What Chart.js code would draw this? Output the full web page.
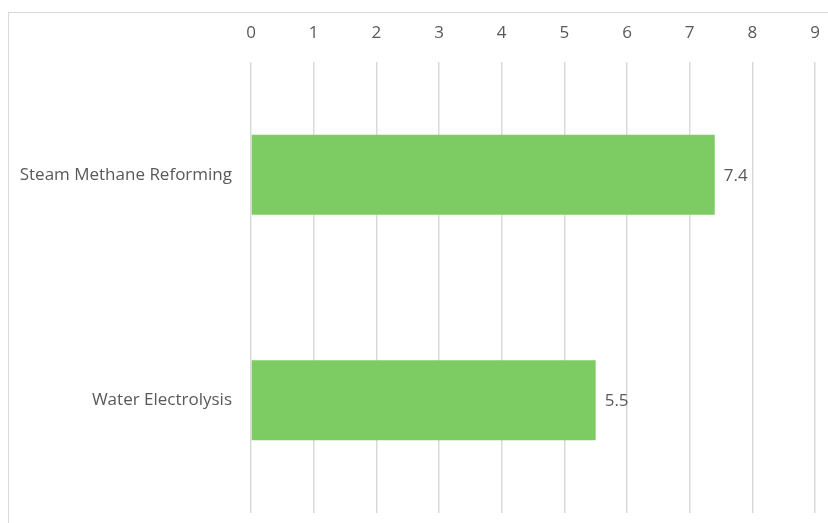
<!DOCTYPE html>
<html>
<head>
<meta charset="utf-8">
<script src="https://cdn.jsdelivr.net/npm/chart.js@4/dist/chart.umd.min.js"></script>
<style>
  html, body { margin: 0; padding: 0; background: #fff; overflow: hidden; width: 828px; height: 523px; }
  #wrap { position: relative; width: 828px; height: 523px; overflow: hidden; }
  #frame { position: absolute; left: 8px; top: 12px; right: -20px; bottom: -20px; border: 1.5px solid #d9d9d9; }
  #box { position: absolute; left: 0; top: 0; width: 828px; height: 523px; }
</style>
</head>
<body>
<div id="wrap">
  <div id="frame"></div>
  <div id="box"><canvas id="c"></canvas></div>
</div>
<script>
const categories = ["Steam Methane Reforming", "Water Electrolysis"];
const values = [7.4, 5.5];
const xTicks = [0, 1, 2, 3, 4, 5, 6, 7, 8, 9];

const FONT = "'Open Sans', 'Noto Sans', sans-serif";
const TEXT = '#595959';

const valueLabels = {
  id: 'valueLabels',
  afterDatasetsDraw(chart) {
    const ctx = chart.ctx;
    const meta = chart.getDatasetMeta(0);
    ctx.save();
    ctx.font = "17px " + FONT;
    ctx.fillStyle = TEXT;
    ctx.textAlign = 'left';
    ctx.textBaseline = 'middle';
    meta.data.forEach((bar, i) => {
      ctx.fillText(String(values[i]), bar.x + 9, bar.y + 1);
    });
    ctx.restore();
  }
};

new Chart(document.getElementById('c'), {
  type: 'bar',
  data: {
    labels: categories,
    datasets: [{
      data: values,
      backgroundColor: '#7ccc63',
      borderWidth: 0,
      barPercentage: 0.355,
      categoryPercentage: 1.0
    }]
  },
  options: {
    indexAxis: 'y',
    responsive: true,
    maintainAspectRatio: false,
    animation: false,
    layout: { padding: { left: 0, right: 13, top: 0, bottom: 10 } },
    plugins: { legend: { display: false }, tooltip: { enabled: false } },
    scales: {
      x: {
        position: 'top',
        min: 0, max: 9,
        afterBuildTicks(axis) { axis.ticks = xTicks.map(v => ({ value: v })); },
        afterFit(axis) { axis.height = 62; axis.paddingLeft = 0; axis.paddingRight = 0; },
        grid: { color: '#d9d9d9', lineWidth: 1.5, drawTicks: false },
        border: { display: false },
        ticks: { color: TEXT, font: { family: FONT, size: 17 }, padding: 19 }
      },
      y: {
        afterFit(axis) { axis.width = 251; axis.paddingTop = 0; axis.paddingBottom = 0; },
        grid: { display: false },
        border: { display: false },
        ticks: { color: TEXT, font: { family: FONT, size: 17 }, padding: 11 }
      }
    }
  },
  plugins: [valueLabels]
});
</script>
</body>
</html>
